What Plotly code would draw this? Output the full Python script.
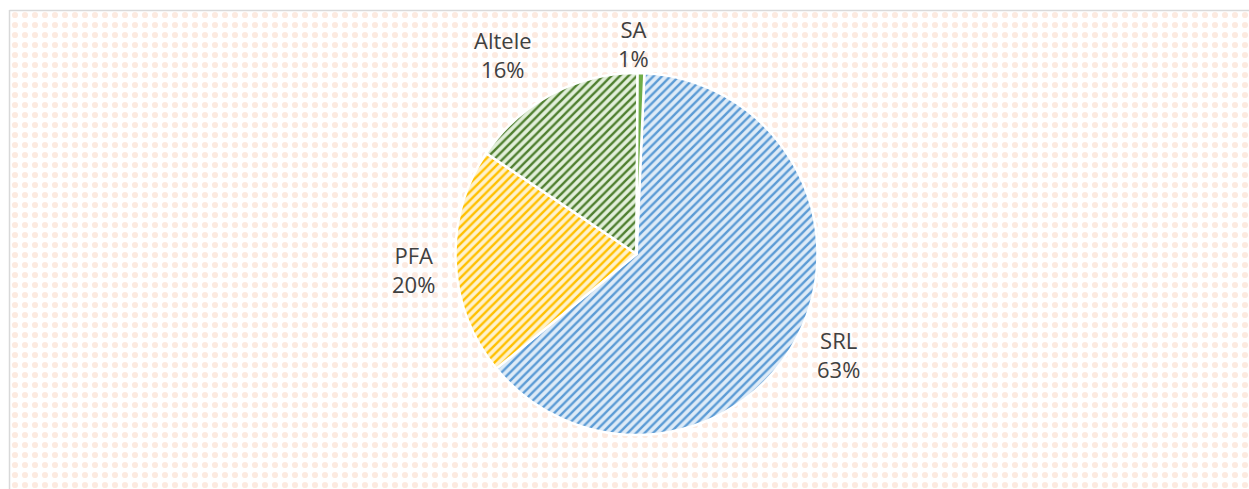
import plotly.graph_objects as go

# Share of entities by legal form
categories = ["SRL", "PFA", "Altele", "SA"]
shares = [63.4, 20.3, 15.7, 0.6]

fg_colors = ["#5b9bd5", "#ffc000", "#4f7f2f", "#70ad47"]
bg_colors = ["#deebf7", "#fff2cc", "#e2efda", "#70ad47"]

# data-label centres, in pixels from the top-left corner
label_xy = [(838, 354), (413, 269), (503, 54), (634, 44)]

W, H = 1249, 489
cx, cy, r = 636.5, 254, 181     # pie centre / radius in pixels
rotation = 2.5                  # first-slice angle, degrees clockwise from 12 o'clock

fig = go.Figure()

# dotted chart-area background inside the frame
x0 = 11 / W
y1 = 1 - 11 / H
fig.add_trace(go.Scatter(
    x=[x0, 1, 1, x0, x0], y=[0, 0, y1, y1, 0],
    mode="lines", line=dict(width=0), fill="toself",
    fillcolor="rgba(0,0,0,0)",
    fillpattern=dict(shape=".", fgcolor="#f9d6c1", bgcolor="white",
                     size=10, solidity=0.3),
    hoverinfo="skip", showlegend=False,
))

fig.add_trace(go.Pie(
    labels=categories, values=shares,
    sort=False, direction="clockwise", rotation=rotation,
    textinfo="none",
    marker=dict(
        colors=bg_colors,
        line=dict(color="white", width=2.5),
        pattern=dict(shape=["/", "/", "/", ""], fgcolor=fg_colors,
                     bgcolor=bg_colors, size=6, solidity=0.4),
    ),
    domain=dict(x=[(cx - r) / W, (cx + r) / W],
                y=[(H - cy - r) / H, (H - cy + r) / H]),
    showlegend=False, hoverinfo="label+percent",
))

# category name and rounded share beside each slice
total = sum(shares)
font = dict(family="Open Sans", size=22, color="#404040")
annotations = [
    dict(x=px / W, y=1 - py / H, xref="paper", yref="paper",
         text=f"{name}<br>{v / total:.0%}", showarrow=False,
         xanchor="center", yanchor="middle", font=font, align="center")
    for name, v, (px, py) in zip(categories, shares, label_xy)
]

fig.update_layout(
    width=W, height=H,
    margin=dict(l=0, r=0, t=0, b=0, autoexpand=False),
    paper_bgcolor="white", plot_bgcolor="rgba(0,0,0,0)",
    xaxis=dict(range=[0, 1], visible=False, fixedrange=True),
    yaxis=dict(range=[0, 1], visible=False, fixedrange=True),
    annotations=annotations,
    shapes=[
        dict(type="line", xref="paper", yref="paper",
             x0=9.5 / W, x1=9.5 / W, y0=0, y1=1 - 10 / H,
             line=dict(color="#d9d9d9", width=1.5)),
        dict(type="line", xref="paper", yref="paper",
             x0=9.5 / W, x1=1, y0=1 - 10.5 / H, y1=1 - 10.5 / H,
             line=dict(color="#d9d9d9", width=1.5)),
    ],
)

fig.write_html("out.html")
